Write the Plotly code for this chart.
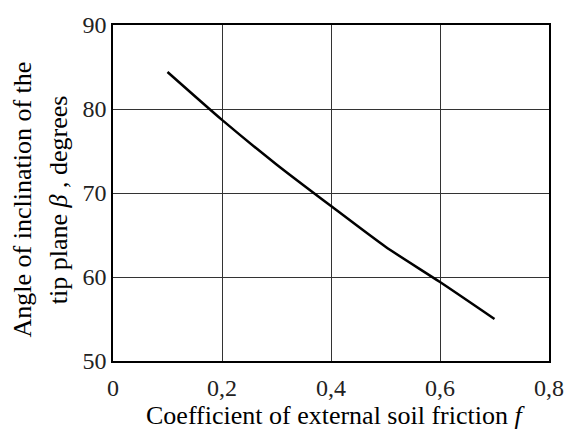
import plotly.graph_objects as go

friction = [0.1, 0.2, 0.3, 0.4, 0.5, 0.6, 0.7]
beta_deg = [84.4, 78.7, 73.4, 68.45, 63.6, 59.4, 55.0]

x_tick_vals = [0, 0.2, 0.4, 0.6, 0.8]
x_tick_text = ["0", "0,2", "0,4", "0,6", "0,8"]
y_tick_vals = [50, 60, 70, 80, 90]
y_tick_text = ["50", "60", "70", "80", "90"]

FONT = "Liberation Serif"

fig = go.Figure()
fig.add_trace(go.Scatter(x=friction, y=beta_deg, mode="lines",
                         line=dict(color="black", width=2.5, shape="spline", smoothing=0.6),
                         showlegend=False))

fig.update_layout(
    width=576, height=432,
    margin=dict(l=113, r=24, t=17, b=71),
    paper_bgcolor="white", plot_bgcolor="white",
    font=dict(family=FONT, size=24, color="black"),
    xaxis=dict(range=[0, 0.8], tickvals=x_tick_vals, ticktext=x_tick_text,
               showgrid=True, gridcolor="#333333", gridwidth=1,
               showline=True, linecolor="black", linewidth=1.5, mirror=True,
               ticks="", zeroline=False, fixedrange=True, ticklabelstandoff=4,
               tickfont=dict(family=FONT, size=24, color="#222222")),
    yaxis=dict(range=[50, 90], tickvals=y_tick_vals, ticktext=y_tick_text,
               showgrid=True, gridcolor="#333333", gridwidth=1,
               showline=True, linecolor="black", linewidth=1.5, mirror=True,
               ticks="", zeroline=False, fixedrange=True,
               tickfont=dict(family=FONT, size=24, color="#222222")),
    annotations=[
        dict(text="Coefficient of external soil friction <i>f</i>",
             xref="paper", yref="paper", x=0.51, y=-0.163,
             xanchor="center", yanchor="middle", showarrow=False,
             font=dict(family=FONT, size=26, color="black")),
        dict(text="Angle of inclination of the",
             xref="paper", yref="paper", x=-0.207, y=0.48,
             xanchor="center", yanchor="middle", textangle=-90, showarrow=False,
             font=dict(family=FONT, size=26, color="black")),
        dict(text="tip plane <i>β</i> , degrees",
             xref="paper", yref="paper", x=-0.125, y=0.48,
             xanchor="center", yanchor="middle", textangle=-90, showarrow=False,
             font=dict(family=FONT, size=26, color="black")),
    ],
)

fig.write_html("out.html")
